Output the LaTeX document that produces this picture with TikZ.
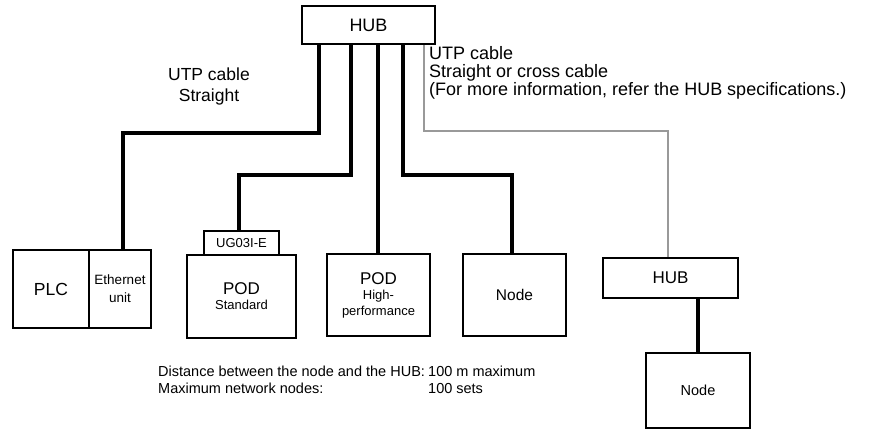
\documentclass[tikz,border=0pt]{standalone}
\usepackage{fontspec}
\setmainfont{Liberation Sans}
\begin{document}
\begin{tikzpicture}[x=1pt,y=-1pt,
  box/.style={draw,line width=2pt,inner sep=0pt,align=center,anchor=north west},
  wire/.style={line width=4pt},
  gwire/.style={line width=1.6pt,draw=black!40},
  lbl/.style={inner sep=0pt,align=left,anchor=base west,font=\fontsize{14.5}{18}\selectfont}]
\useasboundingbox (0,0) rectangle (871,431);
% boxes
\node[box,minimum width=133pt,minimum height=38pt,font=\fontsize{18}{20}\selectfont] (hub) at (301,5) {HUB};
\node[box,minimum width=76pt,minimum height=78pt,font=\fontsize{17.5}{20}\selectfont] (plc) at (12,249) {PLC};
\node[box,minimum width=62pt,minimum height=78pt,font=\fontsize{13.5}{18}\selectfont] (eth) at (88,249) {Ethernet\\unit};
\node[box,minimum width=75pt,minimum height=24pt,font=\fontsize{13}{14}\selectfont] (ug) at (203,230) {UG03I-E};
\node[box,minimum width=109pt,minimum height=83pt,font=\fontsize{13}{15}\selectfont] (pod1) at (186,254) {{\fontsize{17}{18}\selectfont POD}\\[0pt]Standard};
\node[box,minimum width=103pt,minimum height=82pt,font=\fontsize{13}{15.5}\selectfont] (pod2) at (326,253) {{\fontsize{17}{18}\selectfont POD}\\[0pt]High-\\performance};
\node[box,minimum width=103pt,minimum height=82pt,font=\fontsize{15.5}{17}\selectfont] (node1) at (462,253) {Node};
\node[box,minimum width=135pt,minimum height=40pt,font=\fontsize{17}{18}\selectfont] (hub2) at (602,257) {HUB};
\node[box,minimum width=104pt,minimum height=75pt,font=\fontsize{14.5}{16}\selectfont] (node2) at (645,352) {Node};
% bend points
\coordinate (b1) at (123,133);
\coordinate (b2) at (239,175);
\coordinate (b4) at (512,175);
\coordinate (b5) at (668,131);
% wires
\draw[wire] ([xshift=-49.5pt]hub.south) |- (b1) -- (b1 |- eth.north);
\draw[wire] ([xshift=-17.5pt]hub.south) |- (b2) -- (b2 |- ug.north);
\draw[wire] ([xshift=9.5pt]hub.south) -- ([xshift=9.5pt]hub.south |- pod2.north);
\draw[wire] ([xshift=34.5pt]hub.south) |- (b4) -- (b4 |- node1.north);
\draw[gwire] ([xshift=55.5pt]hub.south) |- (b5) -- (b5 |- hub2.north);
\draw[wire] (node2.north |- hub2.south) -- (node2.north);
% labels
\node[inner sep=0pt,align=center,font=\fontsize{17.5}{21}\selectfont] (t1) at (209,86) {UTP cable\\Straight};
\node[inner sep=0pt,align=left,anchor=north west,font=\fontsize{18}{18}\selectfont] (t2) at (429,46) {UTP cable\\Straight or cross cable\\(For more information, refer the HUB specifications.)};
\node[lbl] (t3) at (158,376) {Distance between the node and the HUB:};
\node[lbl] (t4) at (158,393) {Maximum network nodes:};
\node[lbl] (t5) at (428,376) {100 m maximum};
\node[lbl] (t6) at (428,393) {100 sets};
\end{tikzpicture}
\end{document}
